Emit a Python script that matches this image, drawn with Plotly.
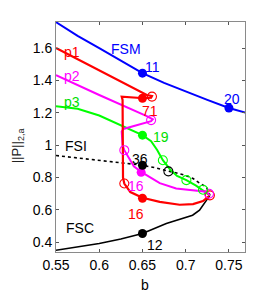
import plotly.graph_objects as go

# ---- data ----
fsm_b = [0.55, 0.575, 0.60, 0.625, 0.65, 0.675, 0.70, 0.725, 0.75, 0.77]
fsm_y = [1.76, 1.675, 1.60, 1.52, 1.445, 1.385, 1.33, 1.28, 1.23, 1.20]

p1_b = [0.55, 0.60, 0.655, 0.661, 0.660, 0.652, 0.640, 0.628, 0.626, 0.627, 0.627, 0.6275, 0.629, 0.636, 0.650, 0.670, 0.693, 0.7085, 0.720, 0.727]
p1_y = [1.60, 1.462, 1.31, 1.303, 1.293, 1.290, 1.295, 1.303, 1.300, 1.28, 1.00, 0.80, 0.763, 0.71, 0.675, 0.650, 0.632, 0.636, 0.655, 0.685]

p2_b = [0.55, 0.60, 0.655, 0.662, 0.660, 0.645, 0.628, 0.626, 0.627, 0.629, 0.634, 0.640, 0.6485, 0.670, 0.689, 0.7085, 0.724, 0.728]
p2_y = [1.433, 1.31, 1.18, 1.16, 1.148, 1.125, 1.10, 1.085, 1.00, 0.969, 0.92, 0.87, 0.835, 0.765, 0.732, 0.72, 0.712, 0.69]

p3_b = [0.55, 0.575, 0.60, 0.625, 0.65, 0.66, 0.667, 0.6736, 0.682, 0.69, 0.7008, 0.712, 0.72, 0.728]
p3_y = [1.241, 1.225, 1.183, 1.122, 1.062, 1.025, 0.97, 0.907, 0.85, 0.81, 0.784, 0.75, 0.722, 0.69]

fsi_b = [0.55, 0.60, 0.631, 0.65, 0.665, 0.681, 0.699, 0.7085, 0.716, 0.724, 0.728]
fsi_y = [0.936, 0.908, 0.887, 0.876, 0.86, 0.838, 0.815, 0.794, 0.765, 0.742, 0.69]

fsc_b = [0.55, 0.575, 0.60, 0.625, 0.65, 0.6776, 0.708, 0.716, 0.726, 0.728]
fsc_y = [0.351, 0.37, 0.392, 0.42, 0.454, 0.516, 0.567, 0.598, 0.67, 0.69]

# marked points
fsm_pts_b = [0.65, 0.75]
fsm_pts_y = [1.445, 1.23]
p1_fill_b = [0.65, 0.65]
p1_fill_y = [1.29, 0.672]
p1_open_b = [0.661, 0.629, 0.728]
p1_open_y = [1.30, 0.763, 0.69]
p2_fill_b = [0.6485]
p2_fill_y = [0.832]
p2_open_b = [0.66, 0.629, 0.727]
p2_open_y = [1.155, 0.969, 0.70]
p3_fill_b = [0.65]
p3_fill_y = [1.062]
p3_open_b = [0.6736, 0.7008, 0.72]
p3_open_y = [0.907, 0.784, 0.725]
fsi_fill_b = [0.65]
fsi_fill_y = [0.876]
fsi_open_b = [0.68]
fsi_open_y = [0.838]
fsc_fill_b = [0.65]
fsc_fill_y = [0.454]

# labels
lab_text = ["FSM", "p1", "p2", "p3", "11", "20", "71", "19", "FSI", "36", "16", "16", "FSC", "12"]
lab_b = [0.631, 0.569, 0.569, 0.569, 0.662, 0.7535, 0.659, 0.672, 0.573, 0.6477, 0.643, 0.642, 0.578, 0.665]
lab_y = [1.594, 1.575, 1.427, 1.266, 1.48, 1.284, 1.21, 1.05, 0.994, 0.914, 0.747, 0.573, 0.487, 0.382]
lab_col = ["#0000ff", "#ff0000", "#ff00ff", "#00dd00", "#0000ff", "#0000ff", "#ff0000", "#00dd00",
           "#000000", "#000000", "#ff00ff", "#ff0000", "#000000", "#000000"]

x_ticks = [0.55, 0.6, 0.65, 0.7, 0.75]
x_ticktext = ["0.55", "0.6", "0.65", "0.7", "0.75"]
y_ticks = [0.4, 0.6, 0.8, 1.0, 1.2, 1.4, 1.6]
y_ticktext = ["0.4", "0.6", "0.8", "1", "1.2", "1.4", "1.6"]

BLUE, RED, MAG, GREEN, BLACK = "#0000ff", "#ff0000", "#ff00ff", "#00ff00", "#000000"

fig = go.Figure()

def line(b, y, color, width=2, dash="solid"):
    fig.add_trace(go.Scatter(x=b, y=y, mode="lines", line=dict(color=color, width=width, dash=dash),
                             showlegend=False, hoverinfo="skip"))

def pts(b, y, color, filled=True, size=9):
    if filled:
        m = dict(color=color, size=size, symbol="circle")
    else:
        m = dict(color=color, size=size, symbol="circle-open", line=dict(width=1.1))
    fig.add_trace(go.Scatter(x=b, y=y, mode="markers", marker=m, showlegend=False, hoverinfo="skip"))

line(fsc_b, fsc_y, BLACK, 1.6)
line(fsi_b, fsi_y, BLACK, 1.6, "dot")
line(fsm_b, fsm_y, BLUE, 2)
line(p3_b, p3_y, GREEN, 2)
line(p2_b, p2_y, MAG, 2)
line(p1_b, p1_y, RED, 2.2)

pts(fsm_pts_b, fsm_pts_y, BLUE)
pts(p1_fill_b, p1_fill_y, RED)
pts(p1_open_b, p1_open_y, RED, False)
pts(p2_fill_b, p2_fill_y, MAG)
pts(p2_open_b, p2_open_y, MAG, False)
pts(p3_fill_b, p3_fill_y, GREEN)
pts(p3_open_b, p3_open_y, GREEN, False)
pts(fsi_fill_b, fsi_fill_y, BLACK)
pts(fsi_open_b, fsi_open_y, BLACK, False)
pts(fsc_fill_b, fsc_fill_y, BLACK)

for t, b, y, c in zip(lab_text, lab_b, lab_y, lab_col):
    fig.add_annotation(x=b, y=y, text=t, showarrow=False, font=dict(color=c, size=14),
                       xanchor="center", yanchor="middle")

fig.add_annotation(xref="paper", yref="paper", x=-0.205, y=0.465, text="||P||<sub>2,a</sub>",
                   textangle=-90, showarrow=False, font=dict(size=13, color="#222"),
                   xanchor="center", yanchor="middle")
fig.add_annotation(xref="paper", yref="paper", x=0.47, y=-0.143, text="b",
                   showarrow=False, font=dict(size=14, color="#000"), xanchor="center", yanchor="middle")

axis_common = dict(showgrid=False, zeroline=False, showline=True, linecolor="#8a8a8a", linewidth=1,
                   mirror="allticks", ticks="inside", ticklen=3, tickcolor="#555",
                   tickfont=dict(size=14, color="#000"))

# the page body adds an 8px offset, so the figure is sized to fit the window
fig.update_layout(
    width=262, height=285,
    margin=dict(l=48, r=25, t=14, b=41),
    paper_bgcolor="white", plot_bgcolor="white",
    font=dict(family="Liberation Sans, Arial, sans-serif", size=14, color="#000"),
    xaxis=dict(range=[0.55, 0.7686], tickvals=x_ticks, ticktext=x_ticktext, **axis_common),
    yaxis=dict(range=[0.34, 1.761], tickvals=y_ticks, ticktext=y_ticktext, **axis_common),
)

fig.write_html("out.html")
